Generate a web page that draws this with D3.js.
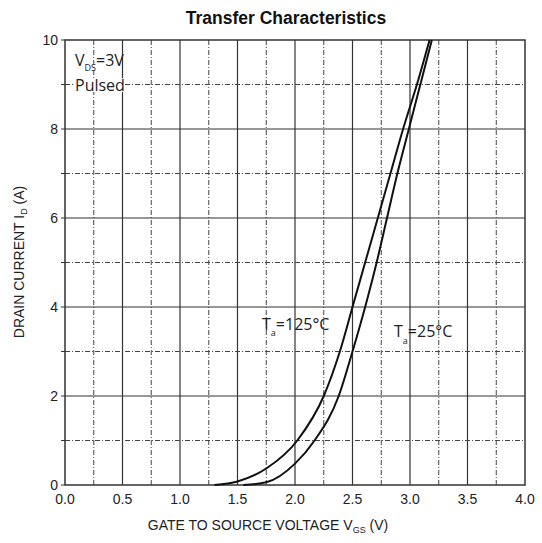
<!DOCTYPE html>
<html><head><meta charset="utf-8">
<script src="https://cdn.jsdelivr.net/npm/d3@7"></script>
<style>body{margin:0;background:#fff}</style>
</head><body>
<svg id="c" width="542" height="543"></svg>
<script>
const title = "Transfer Characteristics";
const xTicks = [0,0.5,1.0,1.5,2.0,2.5,3.0,3.5,4.0];
const yTicks = [0,2,4,6,8,10];
const vgs125 = [1.3,1.5,1.75,2.02,2.25,2.39,2.50,2.61,2.72,2.83,2.94,3.06,3.17];
const id125  = [0,0.08,0.37,1.0,2.0,3.0,4.0,5.0,6.0,7.0,8.0,9.0,10.0];
const vgs25 = [1.55,1.75,2.0,2.17,2.38,2.50,2.61,2.71,2.80,2.89,2.99,3.09,3.19];
const id25  = [0,0.06,0.48,1.0,2.0,3.0,4.0,5.0,6.0,7.0,8.0,9.0,10.0];

const svg = d3.select("#c");
const L=65,R=525,T=40,B=485;
const x = d3.scaleLinear().domain([0,4]).range([L,R]);
const y = d3.scaleLinear().domain([0,10]).range([B,T]);
const dash = "5,2,1,2";

// grid
const g = svg.append("g");
d3.range(1,16).forEach(i=>{
  const v=i*0.25, solid = i%2===0;
  g.append("line").attr("x1",x(v)).attr("x2",x(v)).attr("y1",T).attr("y2",B)
   .attr("stroke",solid?"#333":"#444").attr("stroke-width",solid?1.2:1)
   .attr("stroke-dasharray",solid?null:dash);
});
d3.range(1,10).forEach(v=>{
  const solid = v%2===0;
  g.append("line").attr("x1",L).attr("x2",R).attr("y1",y(v)).attr("y2",y(v))
   .attr("stroke",solid?"#333":"#444").attr("stroke-width",solid?1.2:1)
   .attr("stroke-dasharray",solid?null:dash);
});
d3.range(0,11).forEach(v=>{
  g.append("line").attr("x1",L-4).attr("x2",L).attr("y1",y(v)).attr("y2",y(v)).attr("stroke","#333");
});
svg.append("rect").attr("x",L).attr("y",T).attr("width",R-L).attr("height",B-T)
  .attr("fill","none").attr("stroke","#333").attr("stroke-width",1.5);

// axes labels
const ax = svg.append("g").attr("font-family","Liberation Sans, Arial, sans-serif").attr("font-size",14).attr("fill","#222");
xTicks.forEach(v=>ax.append("text").attr("x",x(v)).attr("y",B+19).attr("text-anchor","middle").text(v.toFixed(1)));
yTicks.forEach(v=>ax.append("text").attr("x",L-7).attr("y",y(v)+5).attr("text-anchor","end").text(v));

svg.append("text").attr("x",286).attr("y",24).attr("text-anchor","middle")
  .attr("font-family","Liberation Sans, Arial, sans-serif").attr("font-weight","bold").attr("font-size",17.5).attr("fill","#111").text(title);

const xt = svg.append("text").attr("x",268).attr("y",530).attr("text-anchor","middle")
  .attr("font-family","Liberation Sans, Arial, sans-serif").attr("font-size",14).attr("fill","#222");
xt.append("tspan").text("GATE TO SOURCE VOLTAGE V");
xt.append("tspan").attr("font-size",9).attr("dy",3).text("GS");
xt.append("tspan").attr("dy",-3).text(" (V)");

const yt = svg.append("text").attr("transform","translate(24,262) rotate(-90)").attr("text-anchor","middle")
  .attr("font-family","Liberation Sans, Arial, sans-serif").attr("font-size",14).attr("fill","#222");
yt.append("tspan").text("DRAIN CURRENT I");
yt.append("tspan").attr("font-size",9).attr("dy",3).text("D");
yt.append("tspan").attr("dy",-3).text(" (A)");

// curves
const line = d3.line().x(d=>x(d[0])).y(d=>y(d[1])).curve(d3.curveMonotoneX);
svg.append("path").datum(vgs125.map((v,i)=>[v,id125[i]])).attr("d",line)
  .attr("fill","none").attr("stroke","#111").attr("stroke-width",2);
svg.append("path").datum(vgs25.map((v,i)=>[v,id25[i]])).attr("d",line)
  .attr("fill","none").attr("stroke","#111").attr("stroke-width",2);

// annotations
const af = "Open Sans, Noto Sans, sans-serif";
const t1 = svg.append("text").attr("x",75).attr("y",66).attr("font-family",af).attr("font-size",16).attr("fill","#222");
t1.append("tspan").text("V");
t1.append("tspan").attr("font-size",9).attr("dy",5).text("DS");
t1.append("tspan").attr("dy",-5).text("=3V");
svg.append("rect").attr("x",75).attr("y",78).attr("width",48).attr("height",14).attr("fill","#fff");
svg.append("text").attr("x",75).attr("y",91).attr("font-family",af).attr("font-size",16).attr("fill","#222").text("Pulsed");

const t2 = svg.append("text").attr("x",262).attr("y",330).attr("font-family",af).attr("font-size",16).attr("fill","#222");
t2.append("tspan").text("T");
t2.append("tspan").attr("font-size",9).attr("dy",6).text("a");
t2.append("tspan").attr("dy",-6).text("=125°C");
const t3 = svg.append("text").attr("x",394).attr("y",337).attr("font-family",af).attr("font-size",16).attr("fill","#222");
t3.append("tspan").text("T");
t3.append("tspan").attr("font-size",9).attr("dy",7).text("a");
t3.append("tspan").attr("dy",-7).text("=25°C");
</script>
</body></html>
